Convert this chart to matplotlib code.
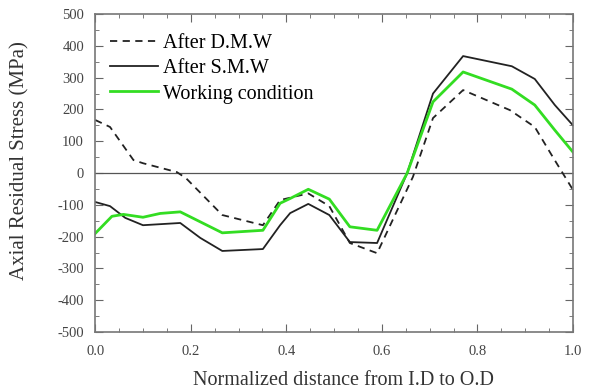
import numpy as np
import matplotlib
matplotlib.use('Agg')
import matplotlib.pyplot as plt
from matplotlib.ticker import MultipleLocator, FuncFormatter

plt.rcParams['font.family'] = ['Liberation Serif', 'DejaVu Serif']
plt.rcParams['axes.unicode_minus'] = False

# After D.M.W (dashed)
x_dmw = [0.0, 0.031, 0.08, 0.10, 0.171, 0.19, 0.266, 0.351, 0.387, 0.446, 0.49,
         0.533, 0.59, 0.665, 0.707, 0.77, 0.868, 0.92, 0.958, 1.0]
y_dmw = [167, 145, 41, 31, 3, -16, -132, -164, -85, -64, -104,
         -220, -252, -12, 173, 261, 198, 145, 50, -53]

# After S.M.W (solid black)
x_smw = [0.0, 0.031, 0.063, 0.10, 0.178, 0.22, 0.266, 0.351, 0.387, 0.408, 0.446,
         0.49, 0.533, 0.59, 0.653, 0.707, 0.77, 0.872, 0.92, 0.962, 1.0]
y_smw = [-91, -104, -141, -164, -157, -204, -245, -239, -164, -126, -97,
         -132, -217, -220, 0, 250, 368, 336, 296, 214, 150]

# Working condition (green)
x_wc = [0.0, 0.035, 0.059, 0.10, 0.136, 0.178, 0.266, 0.351, 0.387, 0.408, 0.446,
        0.49, 0.533, 0.59, 0.653, 0.707, 0.77, 0.872, 0.92, 0.962, 1.0]
y_wc = [-190, -136, -130, -139, -127, -122, -188, -180, -95, -80, -51,
        -82, -169, -180, 0, 224, 318, 264, 214, 135, 66]

fig = plt.figure(figsize=(5.95, 3.92), dpi=100)
ax = fig.add_axes([0.16, 0.153, 0.803, 0.811])

ax.axhline(0, color='#555555', lw=0.9)
ax.plot(x_dmw, y_dmw, color='#222222', ls=(0, (4, 3)), lw=1.3, label='After D.M.W')
ax.plot(x_smw, y_smw, color='#222222', lw=1.3, label='After S.M.W')
ax.plot(x_wc, y_wc, color='#33dd22', lw=2.0, label='Working condition')

ax.set_xlim(0, 1.0)
ax.set_ylim(-500, 500)
ax.xaxis.set_major_locator(MultipleLocator(0.2))
ax.xaxis.set_minor_locator(MultipleLocator(0.05))
ax.yaxis.set_major_locator(MultipleLocator(100))
ax.yaxis.set_minor_locator(MultipleLocator(50))
ax.xaxis.set_major_formatter(FuncFormatter(lambda v, p: '%.1f' % v))
ax.yaxis.set_major_formatter(FuncFormatter(lambda v, p: '%d' % v))
ax.tick_params(which='both', direction='in', top=True, right=True,
               colors='#666666', labelcolor='#444444', labelsize=10.5)
ax.tick_params(which='major', length=6)
ax.tick_params(which='minor', length=3)
ax.tick_params(axis='x', pad=9)
ax.tick_params(axis='y', pad=8)
for s in ax.spines.values():
    s.set_color('#777777')
    s.set_linewidth(1.2)

ax.set_xlabel('Normalized distance from I.D to O.D', fontsize=14.5, color='#333333')
ax.set_ylabel('Axial Residual Stress (MPa)', fontsize=15, color='#333333')
ax.xaxis.set_label_coords(0.52, -0.122)
ax.yaxis.set_label_coords(-0.138, 0.54)

ax.legend(loc='upper left', bbox_to_anchor=(0.005, 0.975), frameon=False, fontsize=14.5,
          handlelength=2.4, labelspacing=0.3, borderaxespad=0.2, handletextpad=0.25)

fig.savefig('out.png', dpi=100)
